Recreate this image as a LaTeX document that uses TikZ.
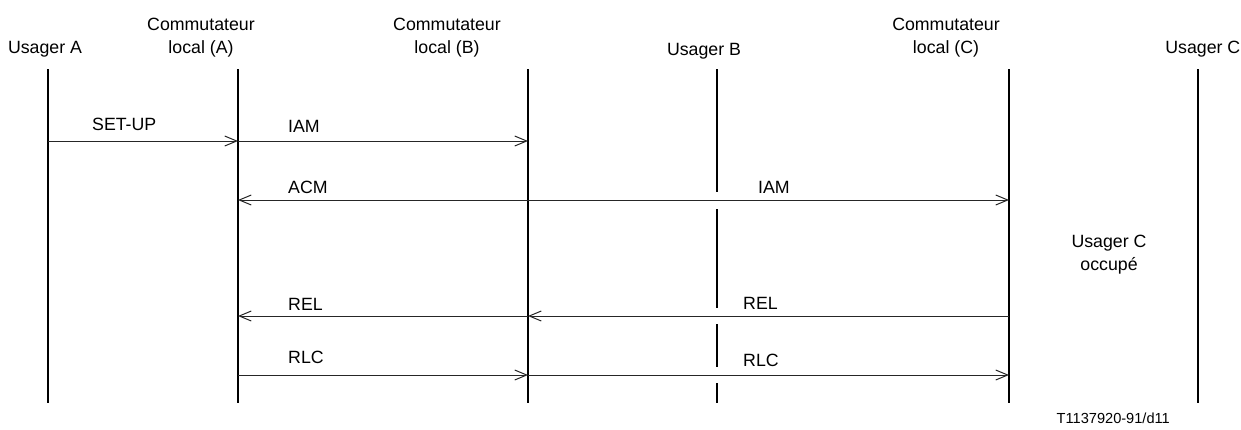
\documentclass[tikz,border=0pt]{standalone}
\usepackage{fontspec}
\setmainfont{Liberation Sans}
\usetikzlibrary{arrows.meta}
\begin{document}
\begin{tikzpicture}[x=1pt,y=-1pt,
  lifeline/.style={line width=2pt,black},
  msg/.style={line width=1pt,black!85,-{Straight Barb[length=12pt,width=10pt,line width=1pt]}},
  head/.style={font=\fontsize{17.75}{23}\selectfont,anchor=base,inner sep=0pt},
  lbl/.style={font=\fontsize{17.75}{23}\selectfont,anchor=base west,inner sep=0pt},
  note/.style={font=\fontsize{17.75}{23}\selectfont,align=center,inner sep=0pt}]
\useasboundingbox (0,0) rectangle (1241,429);
% lifeline positions
\coordinate (UA) at (48,69);   \coordinate (UAb) at (48,403);
\coordinate (CA) at (238,69);  \coordinate (CAb) at (238,403);
\coordinate (CB) at (528,69);  \coordinate (CBb) at (528,403);
\coordinate (UB) at (717,69);  \coordinate (UBb) at (717,403);
\coordinate (CC) at (1009,69); \coordinate (CCb) at (1009,403);
\coordinate (UC) at (1198,69); \coordinate (UCb) at (1198,403);
% headers
\node[head] (hUA) at (45,53) {Usager A};
\node[head] (hCA1) at (201,30) {Commutateur};
\node[head] (hCA2) at (201,53) {local (A)};
\node[head] (hCB1) at (447,30) {Commutateur};
\node[head] (hCB2) at (447,53) {local (B)};
\node[head] (hUB) at (704,55) {Usager B};
\node[head] (hCC1) at (946,30) {Commutateur};
\node[head] (hCC2) at (946,53) {local (C)};
\node[head,anchor=base east] (hUC) at (1240.5,53) {Usager C};
% lifelines
\draw[lifeline] (UA) -- (UAb);
\draw[lifeline] (CA) -- (CAb);
\draw[lifeline] (CB) -- (CBb);
\draw[lifeline] (CC) -- (CCb);
\draw[lifeline] (UC) -- (UCb);
\draw[lifeline] (UB) -- (UB |- 0,192);
\draw[lifeline] (UB |- 0,209) -- (UB |- 0,308);
\draw[lifeline] (UB |- 0,324) -- (UB |- 0,367);
\draw[lifeline] (UB |- 0,383) -- (UBb);
% message points
\coordinate (m1a) at (UA |- 0,141); \coordinate (m1b) at (CA |- 0,141); \coordinate (m1c) at (CB |- 0,141);
\coordinate (m2a) at (CA |- 0,200); \coordinate (m2b) at (CB |- 0,200); \coordinate (m2c) at (CC |- 0,200);
\coordinate (m3a) at (CA |- 0,316); \coordinate (m3b) at (CB |- 0,316); \coordinate (m3c) at (CC |- 0,316);
\coordinate (m4a) at (CA |- 0,375); \coordinate (m4b) at (CB |- 0,375); \coordinate (m4c) at (CC |- 0,375);
% messages
\draw[msg] (m1a) -- (m1b);
\draw[msg] (m1b) -- (m1c);
\draw[msg] (m2b) -- (m2a);
\draw[msg] (m2b) -- (m2c);
\draw[msg] (m3c) -- (m3b);
\draw[msg] (m3b) -- (m3a);
\draw[msg] (m4a) -- (m4b);
\draw[msg] (m4b) -- (m4c);
% labels
\node[lbl] (l1) at (92,130) {SET-UP};
\node[lbl] (l2) at (288,132) {IAM};
\node[lbl] (l3) at (288,193) {ACM};
\node[lbl] (l4) at (758,193) {IAM};
\node[lbl] (l5) at (288,310) {REL};
\node[lbl] (l6) at (743,309) {REL};
\node[lbl] (l7) at (288,363) {RLC};
\node[lbl] (l8) at (743,366) {RLC};
\node[lbl,anchor=base] (n1) at (1109,247) {Usager C};
\node[lbl,anchor=base] (n2) at (1109,270) {occupé};
\node[font=\fontsize{14.6}{17}\selectfont,anchor=base east,inner sep=0pt] (ref) at (1170,423) {T1137920-91/d11};
\end{tikzpicture}
\end{document}
